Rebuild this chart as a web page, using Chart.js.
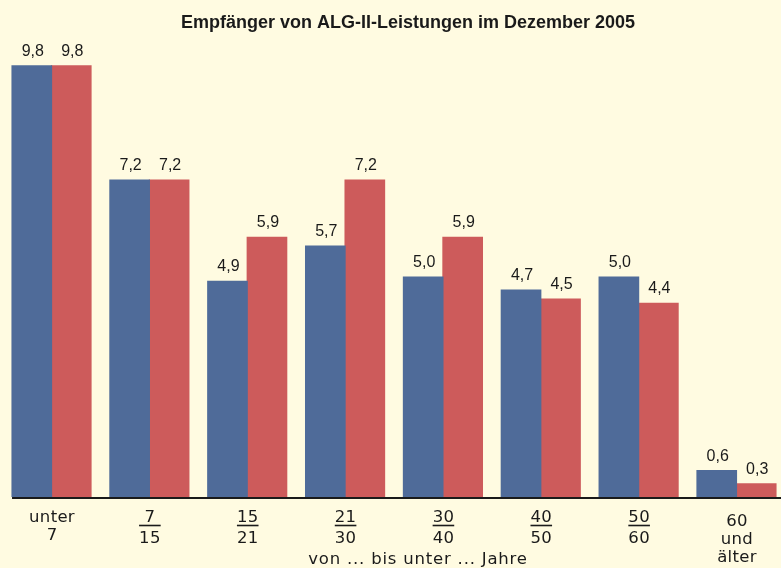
<!DOCTYPE html>
<html lang="de">
<head>
    <meta charset="UTF-8">
    <title>Empfänger von ALG-II-Leistungen</title>
    <script src="https://cdn.jsdelivr.net/npm/chart.js"></script>
    <style>
        html, body { margin: 0; padding: 0; overflow: hidden; background: #fffbe1; }
        #wrap { position: absolute; left: 0; top: 0; width: 790px; height: 568px; }
    </style>
</head>
<body>
    <div id="wrap"><canvas id="algChart"></canvas></div>

    <script>
        // Altersgruppen: Bruch (von/bis unter) oder Textzeilen
        const ageGroups = [
            { lines: ['unter', '7'], fraction: false },
            { lines: ['7', '15'], fraction: true },
            { lines: ['15', '21'], fraction: true },
            { lines: ['21', '30'], fraction: true },
            { lines: ['30', '40'], fraction: true },
            { lines: ['40', '50'], fraction: true },
            { lines: ['50', '60'], fraction: true },
            { lines: ['60', 'und', 'älter'], fraction: false }
        ];
        const blueValues = [9.8, 7.2, 4.9, 5.7, 5.0, 4.7, 5.0, 0.6];
        const redValues  = [9.8, 7.2, 5.9, 7.2, 5.9, 4.5, 4.4, 0.3];
        const titleText = 'Empfänger von ALG-II-Leistungen im Dezember 2005';
        const axisTitle = 'von ... bis unter ... Jahre';

        const FONT = '"Liberation Sans", Arial, sans-serif';
        const TICK_FONT = '"DejaVu Sans", sans-serif';
        const INK = '#1a1a1a';

        const customDraw = {
            id: 'customDraw',
            afterDatasetsDraw(chart) {
                const ctx = chart.ctx;
                const x = chart.scales.x;
                const area = chart.chartArea;
                ctx.save();

                // value labels
                ctx.fillStyle = INK;
                ctx.font = '16px ' + FONT;
                ctx.textAlign = 'center';
                ctx.textBaseline = 'alphabetic';
                chart.data.datasets.forEach((ds, di) => {
                    chart.getDatasetMeta(di).data.forEach((bar, i) => {
                        const txt = ds.data[i].toFixed(1).replace('.', ',');
                        ctx.fillText(txt, bar.x + 1, bar.y - 10);
                    });
                });

                // baseline
                const firstBar = chart.getDatasetMeta(0).data[0];
                ctx.strokeStyle = INK;
                ctx.lineWidth = 2;
                ctx.beginPath();
                ctx.moveTo(firstBar.x - firstBar.width / 2, area.bottom + 1);
                ctx.lineTo(chart.width, area.bottom + 1);
                ctx.stroke();

                // category labels
                ctx.font = '16.5px ' + TICK_FONT;
                ctx.letterSpacing = '0.3px';
                ageGroups.forEach((g, i) => {
                    const cx = x.getPixelForValue(i) + 0.5;
                    if (g.fraction) {
                        ctx.fillText(g.lines[0], cx, area.bottom + 25);
                        ctx.fillText(g.lines[1], cx, area.bottom + 46);
                        const w = Math.max(ctx.measureText(g.lines[0]).width, ctx.measureText(g.lines[1]).width);
                        ctx.lineWidth = 1.6;
                        ctx.beginPath();
                        ctx.moveTo(cx - w / 2, area.bottom + 28.5);
                        ctx.lineTo(cx + w / 2, area.bottom + 28.5);
                        ctx.stroke();
                    } else {
                        const start = g.lines.length > 2 ? 29 : 25;
                        g.lines.forEach((l, k) => ctx.fillText(l, cx, area.bottom + start + k * 18));
                    }
                });
                ctx.letterSpacing = '0.8px';
                ctx.fillText(axisTitle, 418, area.bottom + 67);

                // title
                ctx.letterSpacing = '0px';
                ctx.font = 'bold 18px ' + FONT;
                ctx.fillText(titleText, 408, 28);
                ctx.restore();
            }
        };

        const ctx = document.getElementById('algChart').getContext('2d');
        const algChart = new Chart(ctx, {
            type: 'bar',
            data: {
                labels: ageGroups.map(g => g.lines.join(' ')),
                datasets: [
                    { data: blueValues, backgroundColor: '#4f6b99' },
                    { data: redValues, backgroundColor: '#cd5b5b' }
                ]
            },
            options: {
                responsive: true,
                maintainAspectRatio: false,
                animation: false,
                layout: { padding: { left: 2.6, right: 4.6, top: 57, bottom: 71 } },
                datasets: { bar: { categoryPercentage: 0.807, barPercentage: 1.0, borderWidth: 0, inflateAmount: 0.6 } },
                scales: {
                    x: { display: false },
                    y: { display: false, min: 0, max: 10 }
                },
                plugins: { legend: { display: false }, tooltip: { enabled: false } }
            },
            plugins: [customDraw]
        });
    </script>
</body>
</html>
